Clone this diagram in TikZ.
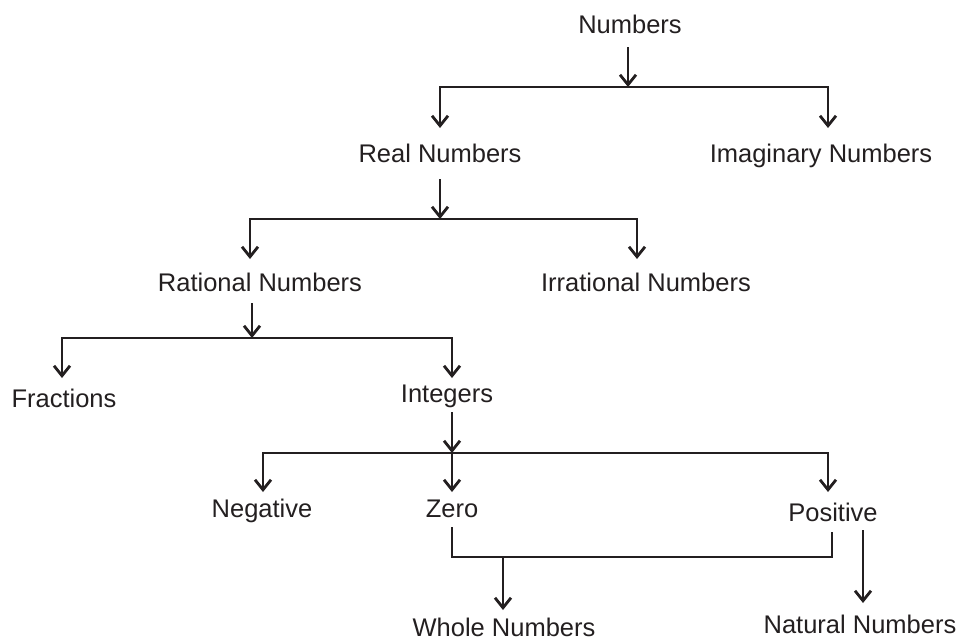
\documentclass[tikz,border=0pt]{standalone}
\usepackage{fontspec}
\setmainfont{Liberation Sans}
\usetikzlibrary{arrows.meta}
\definecolor{ink}{HTML}{231F20}
\begin{document}
\begin{tikzpicture}[x=1pt,y=-1pt,
  lbl/.style={inner sep=0pt,text height=18pt,text depth=0pt,anchor=base,
    font=\fontsize{25.5}{30}\selectfont,text=ink},
  wire/.style={draw=ink,line width=2.8pt},
  arr/.style={wire,-{Straight Barb[length=10pt,width=16pt,line width=2.8pt]}}]
\useasboundingbox (0,0) rectangle (961,641);
% labels
\node[lbl] (num)   at (630,33)  {Numbers};
\node[lbl] (real)  at (440,162) {Real Numbers};
\node[lbl] (imag)  at (821,162) {Imaginary Numbers};
\node[lbl] (rat)   at (260,291) {Rational Numbers};
\node[lbl] (irr)   at (646,291) {Irrational Numbers};
\node[lbl] (frac)  at (64,407)  {Fractions};
\node[lbl] (int)   at (447,402) {Integers};
\node[lbl] (neg)   at (262,517) {Negative};
\node[lbl] (zero)  at (452,517) {Zero};
\node[lbl] (pos)   at (833,521) {Positive};
\node[lbl] (whole) at (504,636) {Whole Numbers};
\node[lbl] (nat)   at (860,633) {Natural Numbers};
% junctions
\coordinate (j1) at (628,87);
\coordinate (j2) at (440,219);
\coordinate (j3) at (252,338);
\coordinate (j4) at (452,453);
\coordinate (zb) at (452,527);
\coordinate (pb) at (832,532);
\coordinate (j5) at (503,557);
\coordinate (nt) at (863,530);
% level 1
\draw[arr] (num.south -| j1) ++(0,14) -- (j1);
\draw[arr] (j1) -| (440,128);
\draw[arr] (j1) -| (828,128);
% level 2
\draw[arr] (real.south -| j2) ++(0,17) -- (j2);
\draw[arr] (j2) -| (250,259);
\draw[arr] (j2) -| (637,259);
% level 3
\draw[arr] (rat.south -| j3) ++(0,12) -- (j3);
\draw[arr] (j3) -| (62,378);
\draw[arr] (j3) -| (452,378);
% level 4
\draw[arr] (int.south -| j4) ++(0,10) -- (j4);
\draw[arr] (j4) -| (263,492);
\draw[arr] (j4) -- (452,492);
\draw[arr] (j4) -| (828,492);
% bracket zero-positive
\draw[wire] (zb) |- (pb |- j5) -- (pb);
\draw[arr] (j5) -- (503,610);
\draw[arr] (nt) -- (863,603);
\end{tikzpicture}
\end{document}
